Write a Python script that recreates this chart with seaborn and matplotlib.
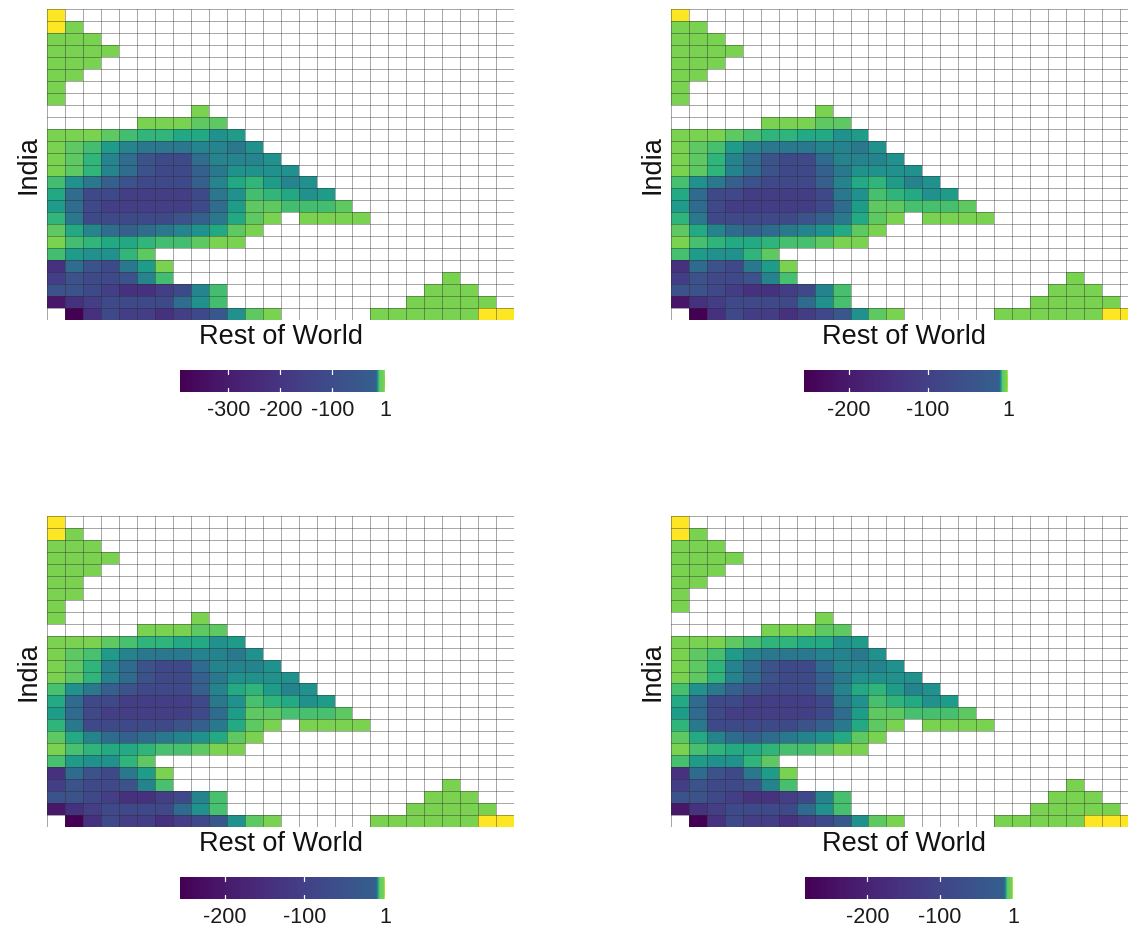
import numpy as np
import pandas as pd
import matplotlib
matplotlib.use("Agg")
import matplotlib.pyplot as plt
import seaborn as sns
from matplotlib.colors import LinearSegmentedColormap, Normalize
from matplotlib.cm import ScalarMappable

sns.set_theme(style="white")
plt.rcParams['font.family'] = ['Liberation Sans', 'DejaVu Sans']

# ---------------- data ----------------
# colour-level codes ('.' = empty cell)
base_rows = [
    "Y.........................",
    "Ya........................",
    "aaa.......................",
    "aaaa......................",
    "aaa.......................",
    "aa........................",
    "a.........................",
    "a.........................",
    "........a.................",
    ".....aaabb................",
    "aaabcddeegf...............",
    "abcfhiiihhig..............",
    "abdhjmnnjhhhg.............",
    "abdhjmnnkigggg............",
    "cgikmnnnkhedfhg...........",
    "ejnnoooonigcdegf..........",
    "fjnooooonjfbbcccb.........",
    "dinnnnnmkieba.aaaa........",
    "behjkjihgeba..............",
    "acdeedccbaa...............",
    "cfggdb....................",
    "pjmnifa...................",
    "omnnmhc...............a...",
    "mmnopponhc...........aaa..",
    "rponnnnjgc..........aaaaa.",
    ".tpnooponlgba.....aaaaaaYY",
]

# per-panel changes (row, col, code)
overrides_p1 = []
overrides_p2 = [(1, 0, "a")]
overrides_p3 = [(6, 1, "a"), (8, 0, "a")]
overrides_p4 = [(25, 23, "Y")]

# value of each colour level in each panel (read against each colour bar)
levels_p1 = {"t": -393, "r": -317, "p": -217, "o": -166, "n": -116, "m": -78, "l": -53, "k": -16,
             "j": -15.3, "i": -14.7, "h": -14, "g": -13.3, "f": -12.7, "e": -12, "d": -11.3,
             "c": -10.7, "b": -10, "a": 0, "Y": 1}
levels_p2 = {"t": -257, "r": -208, "p": -142, "o": -109, "n": -76, "m": -51, "l": -35, "k": -10,
             "j": -9.6, "i": -9.1, "h": -8.7, "g": -8.2, "f": -7.8, "e": -7.3, "d": -6.9,
             "c": -6.4, "b": -6, "a": 0, "Y": 1}
levels_p3 = {"t": -256, "r": -207, "p": -141, "o": -108, "n": -76, "m": -51, "l": -35, "k": -10,
             "j": -9.6, "i": -9.1, "h": -8.7, "g": -8.2, "f": -7.8, "e": -7.3, "d": -6.9,
             "c": -6.4, "b": -6, "a": 0, "Y": 1}
levels_p4 = {"t": -286, "r": -231, "p": -157, "o": -120, "n": -84, "m": -56, "l": -38, "k": -11,
             "j": -10.6, "i": -10.1, "h": -9.7, "g": -9.2, "f": -8.8, "e": -8.3, "d": -7.9,
             "c": -7.4, "b": -7, "a": 0, "Y": 1}

colorbar_ticks_p1 = [-300, -200, -100, 1]
colorbar_ticks_p2 = [-200, -100, 1]
colorbar_ticks_p3 = [-200, -100, 1]
colorbar_ticks_p4 = [-200, -100, 1]

x_label = "Rest of World"
y_label = "India"

# ---------------- helpers ----------------
W, H = 1128, 930


def rect(x0, y0, x1, y1):
    return [x0 / W, 1 - y1 / H, (x1 - x0) / W, (y1 - y0) / H]


def build_frame(rows, overrides, levels):
    grid = [list(r) for r in rows]
    for r, c, code in overrides:
        grid[r][c] = code
    vals = [[np.nan if ch == "." else levels[ch] for ch in row] for row in grid]
    return pd.DataFrame(vals)


def make_cmap(levels, vmax=1.0):
    vmin = levels["t"]
    anchors_v = [vmin, levels["k"], levels["b"], levels["a"], vmax]
    anchors_p = [0.0, 0.30, 0.75, 0.80, 1.0]
    xa = [(v - vmin) / (vmax - vmin) for v in anchors_v]
    xs = np.unique(np.concatenate([np.linspace(xa[i], xa[i + 1], 50) for i in range(4)]))
    pos = np.interp(xs, xa, anchors_p)
    cols = plt.get_cmap("viridis")(pos)
    return LinearSegmentedColormap.from_list("v", list(zip(xs, cols)), N=30000)


panels = [
    dict(rows=base_rows, ov=overrides_p1, lv=levels_p1, ticks=colorbar_ticks_p1,
         heat=(47.3, 9, 514, 320), cbar=(180, 370, 385, 392)),
    dict(rows=base_rows, ov=overrides_p2, lv=levels_p2, ticks=colorbar_ticks_p2,
         heat=(671, 9, 1137.7, 320), cbar=(804, 370, 1008, 392)),
    dict(rows=base_rows, ov=overrides_p3, lv=levels_p3, ticks=colorbar_ticks_p3,
         heat=(47.3, 516, 514, 827), cbar=(180, 877, 385, 899)),
    dict(rows=base_rows, ov=overrides_p4, lv=levels_p4, ticks=colorbar_ticks_p4,
         heat=(671, 516, 1137.7, 827), cbar=(805, 877, 1013, 899)),
]

fig = plt.figure(figsize=(W / 100, H / 100), dpi=100)
fig.patch.set_facecolor("white")

for p in panels:
    df = build_frame(p["rows"], p["ov"], p["lv"])
    vmin = p["lv"]["t"]
    vmax = 1
    cmap = make_cmap(p["lv"], vmax)
    ax = fig.add_axes(rect(*p["heat"]))
    sns.heatmap(df, ax=ax, cmap=cmap, vmin=vmin, vmax=vmax, cbar=False,
                xticklabels=False, yticklabels=False, linewidths=0)
    nr, nc = df.shape
    for i in range(nr + 1):
        ax.axhline(i, color="#2b2b2b", lw=0.7, alpha=0.42, zorder=3)
    for j in range(nc + 1):
        ax.axvline(j, color="#2b2b2b", lw=0.7, alpha=0.42, zorder=3)
    for s in ax.spines.values():
        s.set_visible(False)
    ax.set_xlabel("")
    ax.set_ylabel("")

    hx0, hy0, hx1, hy1 = p["heat"]
    fig.text((hx0 - 19) / W, 1 - ((hy0 + hy1) / 2) / H, y_label, rotation=90,
             ha="center", va="center", fontsize=19.5, color="#111111")
    fig.text(((hx0 + hx1) / 2) / W, 1 - (hy1 + 17) / H, x_label, ha="center", va="center",
             fontsize=19.5, color="#111111")

    cax = fig.add_axes(rect(*p["cbar"]))
    sm = ScalarMappable(norm=Normalize(vmin=vmin, vmax=vmax), cmap=cmap)
    cb = fig.colorbar(sm, cax=cax, orientation="horizontal", ticks=p["ticks"])
    cb.outline.set_visible(False)
    cax.tick_params(length=0, pad=6, labelsize=15.5, labelcolor="#1a1a1a")
    cax.set_xticklabels([str(t) for t in p["ticks"]])
    for t in p["ticks"]:
        cax.plot([t, t], [0, 0.2], color="white", lw=0.9, transform=cax.get_xaxis_transform())
        cax.plot([t, t], [0.8, 1.0], color="white", lw=0.9, transform=cax.get_xaxis_transform())

fig.savefig("out.png", dpi=100, facecolor="white")
